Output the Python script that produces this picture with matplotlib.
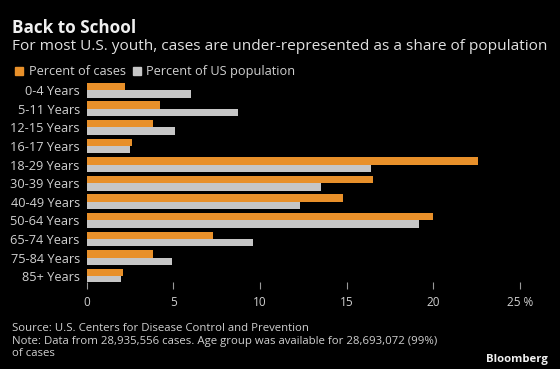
import matplotlib
matplotlib.use('Agg')
import matplotlib.pyplot as plt
import numpy as np
from matplotlib.patches import Patch

# Data
age_groups = ['0-4 Years', '5-11 Years', '12-15 Years', '16-17 Years', '18-29 Years',
              '30-39 Years', '40-49 Years', '50-64 Years', '65-74 Years',
              '75-84 Years', '85+ Years']
pct_cases = [2.2, 4.2, 3.8, 2.6, 22.6, 16.5, 14.8, 20.0, 7.3, 3.8, 2.1]
pct_population = [6.0, 8.7, 5.1, 2.5, 16.4, 13.5, 12.3, 19.2, 9.6, 4.9, 2.0]
xticks = [0, 5, 10, 15, 20, 25]
xtick_labels = ['0', '5', '10', '15', '20', '25 %']

orange = '#e8902a'
grey = '#c6c6c6'
text_col = '#d0d0d0'
bg = '#000000'

plt.rcParams['font.family'] = ['Open Sans', 'DejaVu Sans']

fig = plt.figure(figsize=(5.6, 3.69), dpi=100, facecolor=bg)
ax = fig.add_axes([0.155, 0.236, 0.789, 0.547], facecolor=bg)

y = np.arange(len(age_groups))
h = 0.4
ax.barh(y - h / 2, pct_cases, height=h, color=orange)
ax.barh(y + h / 2, pct_population, height=h, color=grey)

ax.set_xlim(0, 25.5)
ax.set_ylim(10.31, -0.55)
ax.set_yticks(y)
ax.set_yticklabels(age_groups)
ax.set_xticks(xticks)
ax.set_xticklabels(xtick_labels)

for s in ax.spines.values():
    s.set_visible(False)
ax.tick_params(axis='y', length=0, pad=5, labelsize=9.2, labelcolor=text_col)
ax.tick_params(axis='x', length=5, width=0.8, color='#9a9a9a', pad=5,
               labelsize=8.5, labelcolor=text_col)

# titles
fig.text(0.022, 0.911, 'Back to School', color='#f0f0f0', fontsize=12.3,
         fontweight='bold', va='baseline')
fig.text(0.021, 0.8645, 'For most U.S. youth, cases are under-represented as a share of population',
         color='#e0e0e0', fontsize=11.1, va='baseline')

handles = [Patch(color=orange, label='Percent of cases'),
           Patch(color=grey, label='Percent of US population')]
fig.legend(handles=handles, loc='center left', bbox_to_anchor=(0.018, 0.805),
           ncol=2, frameon=False, fontsize=9.2, labelcolor=text_col,
           handlelength=0.65, handleheight=0.65, handletextpad=0.4,
           columnspacing=0.55, borderaxespad=0)

# footer
footer = ['Source: U.S. Centers for Disease Control and Prevention',
          'Note: Data from 28,935,556 cases. Age group was available for 28,693,072 (99%)',
          'of cases']
for line, yy in zip(footer, [0.103, 0.068, 0.035]):
    fig.text(0.021, yy, line, color=text_col, fontsize=8.2, va='baseline')
fig.text(0.978, 0.02, 'Bloomberg', color='#f0f0f0', fontsize=8.2,
         fontweight='bold', ha='right', va='baseline')

fig.savefig('out.png', dpi=100, facecolor=bg)
